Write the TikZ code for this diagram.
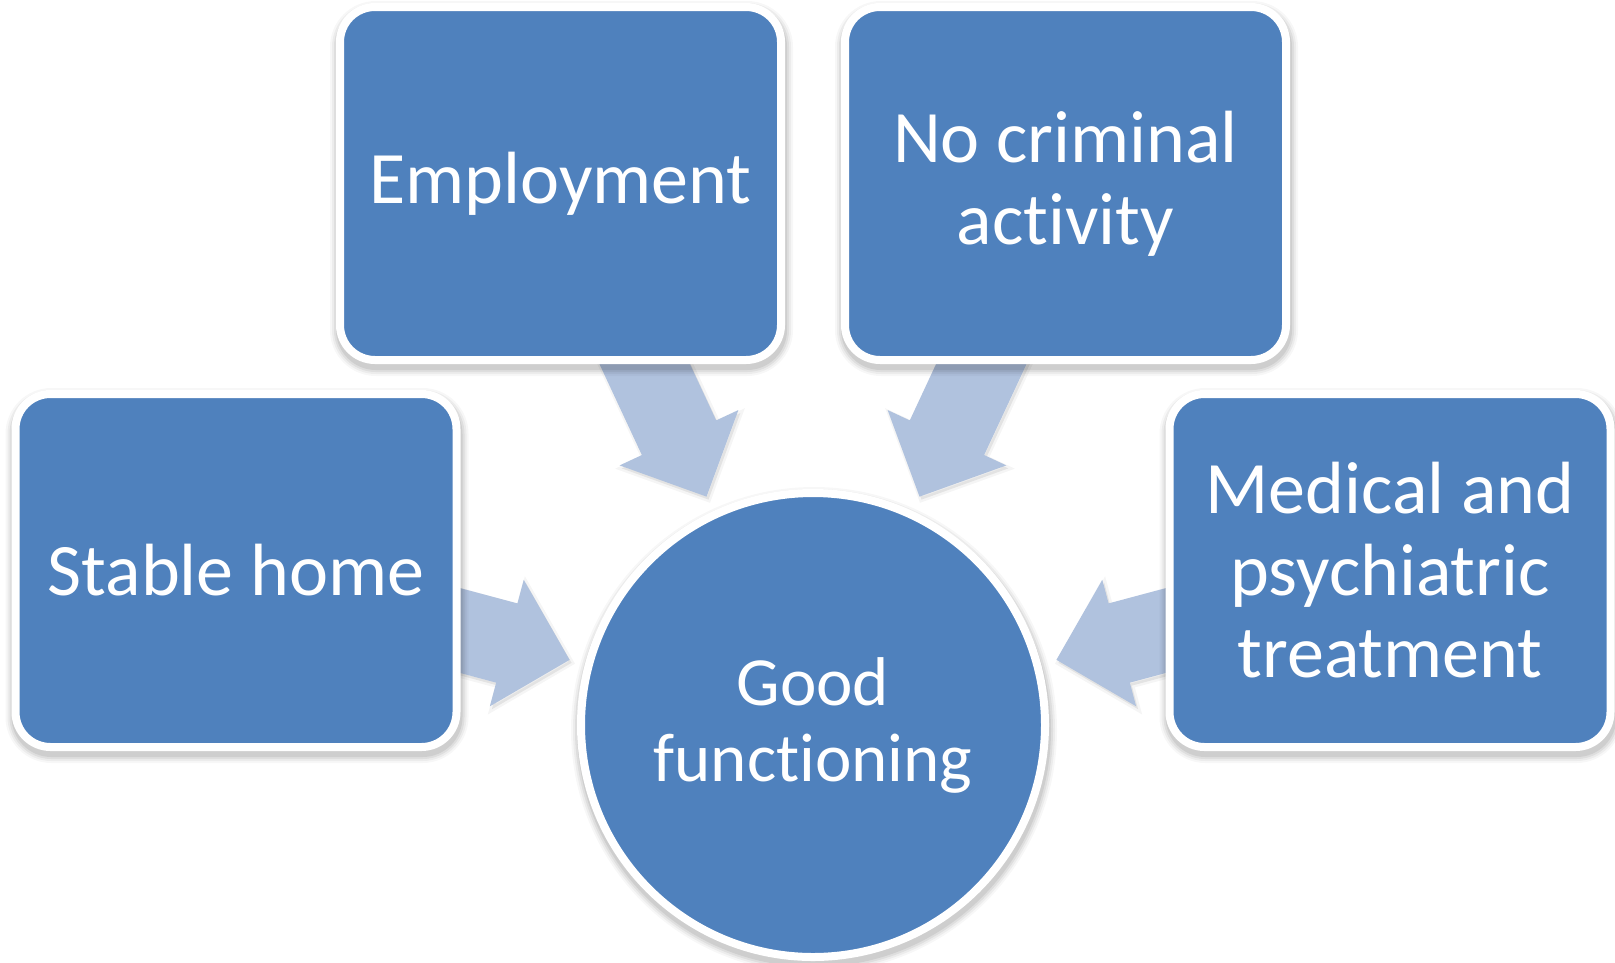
\documentclass[tikz,border=0pt]{standalone}
\usepackage{fontspec}
\setmainfont{Carlito}[Ligatures=NoCommon]
\usetikzlibrary{calc}

\definecolor{boxblue}{HTML}{4F81BD}
\definecolor{arrowblue}{HTML}{B0C2DE}

\pgfdeclarelayer{paper}
\pgfdeclarelayer{under}
\pgfsetlayers{paper,under,main}

\tikzset{
  % soft grey halo below a white-rimmed shape, built from faint strokes
  haze/.style={
    preaction={draw=black, draw opacity=0.03, line width=22pt, transform canvas={xshift=1pt, yshift=-5pt}},
    preaction={draw=black, draw opacity=0.045, line width=18pt, transform canvas={xshift=1pt, yshift=-5pt}},
    preaction={draw=black, draw opacity=0.06, line width=14pt, transform canvas={xshift=1pt, yshift=-5pt}},
    preaction={draw=black, draw opacity=0.07, line width=10pt, transform canvas={xshift=1pt, yshift=-5pt}}},
  card/.style={haze, rectangle, rounded corners=35pt, fill=boxblue, draw=white,
    line width=8pt, minimum width=441pt, minimum height=353pt, inner sep=0pt,
    text=white, align=center, font=\fontsize{74}{82}\selectfont},
  hub/.style={haze, circle, fill=boxblue, draw=white, line width=8pt,
    minimum size=464pt, inner sep=0pt, text=white, align=center,
    font=\fontsize{69}{76}\selectfont},
  flow/.style={fill=arrowblue,
    preaction={draw=black, draw opacity=0.04, line width=5pt, transform canvas={xshift=2pt, yshift=-3pt}},
    preaction={fill=black, fill opacity=0.07, transform canvas={xshift=2pt, yshift=-3pt}}}
}

% block arrow from a box (#1) towards the hub (#2), lying under the boxes
\newcommand\feedarrow[2]{%
  \coordinate (#1-tip)  at ($(#2.center)!252pt!(#1.center)$);
  \coordinate (#1-head) at ($(#2.center)!317pt!(#1.center)$);
  \coordinate (#1-tail) at ($(#2.center)!520pt!(#1.center)$);
  \begin{pgfonlayer}{under}
    \path[flow] (#1-tip)
      -- ($(#1-head)!65.5pt!90:(#1.center)$)
      -- ($(#1-head)!41pt!90:(#1.center)$)
      -- ($(#1-tail)!41pt!90:(#1.center)$)
      -- ($(#1-tail)!41pt!-90:(#1.center)$)
      -- ($(#1-head)!41pt!-90:(#1.center)$)
      -- ($(#1-head)!65.5pt!-90:(#1.center)$)
      -- cycle;
  \end{pgfonlayer}}

\begin{document}
\begin{tikzpicture}[x=1pt, y=-1pt]
  \begin{pgfonlayer}{paper}
    \fill[white] (0,0) rectangle (1615,962);
  \end{pgfonlayer}
  \useasboundingbox (0,0) rectangle (1615,962);

  \node[card] (employ) at (560.5,183.5) {Employment};
  \node[card] (crime)  at (1065.5,183.5) {No criminal\\activity};
  \node[card] (home)   at (236,570.5) {Stable home};
  \node[card] (care)   at (1390,570.5) {Medical and\\psychiatric\\treatment};
  \node[hub]  (good)   at (813,725) {Good\\functioning};

  \feedarrow{employ}{good}
  \feedarrow{crime}{good}
  \feedarrow{home}{good}
  \feedarrow{care}{good}
\end{tikzpicture}
\end{document}
